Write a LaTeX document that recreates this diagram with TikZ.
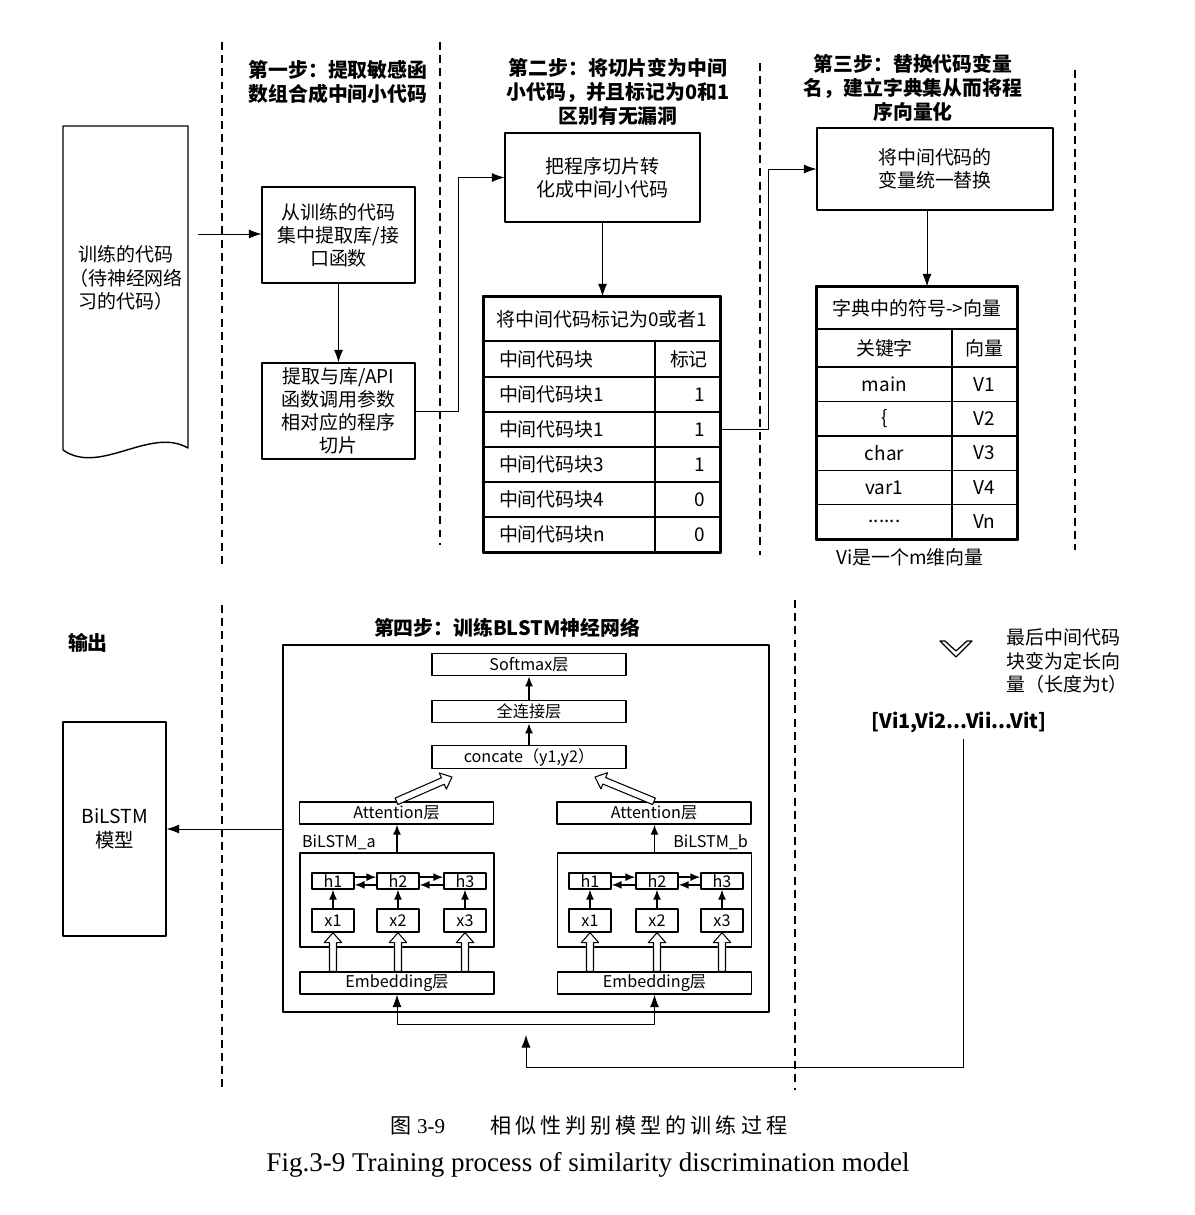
\documentclass[tikz,border=0pt]{standalone}
\usepackage{fontspec}
\setmainfont{Liberation Serif}
\newfontfamily\cjk{Noto Sans CJK SC}
\newfontfamily\cjkcap[LetterSpace=19]{Noto Sans CJK SC}
\usetikzlibrary{arrows.meta,calc}
\newcommand\elide{......}

\tikzset{
  box/.style={draw, line width=0.8pt, align=center, inner sep=1pt},
  head/.style={font=\cjk\bfseries\fontsize{11.3}{13.6}\selectfont, align=center},
  sep/.style={dash pattern=on 4.5pt off 3pt, line width=0.7pt},
  cellL/.style={draw, line width=0.8pt, minimum width=3.42cm, minimum height=0.7cm, text width=2.82cm, inner xsep=0.3cm, inner ysep=0pt, align=left},
  cellR/.style={cellL, minimum width=1.3cm, text width=0.7cm, align=right},
  dcell/.style={draw, line width=0.8pt, minimum width=2.7cm, minimum height=0.688cm, inner sep=0pt},
  layer/.style={draw, line width=0.8pt, minimum width=3.88cm, minimum height=0.45cm, inner sep=0pt, font=\cjk\fontsize{9.2}{10}\selectfont},
  unit/.style={layer, minimum width=0.84cm, minimum height=0.32cm},
  sarr/.style={-{Latex[length=2mm,width=1.6mm]}, line width=0.8pt},
  hollow/.style={line width=0.6pt, fill=white, to path={
    ($(\tikztostart)!2pt!90:(\tikztotarget)$) --
    ($($(\tikztotarget)!2mm!(\tikztostart)$)!2pt!90:(\tikztotarget)$) --
    ($($(\tikztotarget)!2mm!(\tikztostart)$)!5pt!90:(\tikztotarget)$) --
    (\tikztotarget) --
    ($($(\tikztotarget)!2mm!(\tikztostart)$)!5pt!-90:(\tikztotarget)$) --
    ($($(\tikztotarget)!2mm!(\tikztostart)$)!2pt!-90:(\tikztotarget)$) --
    ($(\tikztostart)!2pt!-90:(\tikztotarget)$) -- cycle}},
}

\begin{document}
\begin{tikzpicture}[x=0.02cm, y=-0.02cm, font=\cjk\fontsize{10.8}{13.2}\selectfont, line join=round, >={Latex[length=2.5mm,width=1.8mm]}]
\useasboundingbox (0,0) rectangle (1195,1215);
% separators
\foreach \x/\a/\b in {222/42/565, 440/42/545, 760/63/555, 1075/70/550, 222/605/1090, 795/600/1090}
  \draw[sep] (\x,\a) -- (\x,\b);
% step headers
\node[head] (s1) at (338,82) {第一步：提取敏感函\\数组合成中间小代码};
\node[head] (s2) at (618,92) {第二步：将切片变为中间\\小代码，并且标记为0和1\\区别有无漏洞};
\node[head] (s3) at (913,88) {第三步：替换代码变量\\名，建立字典集从而将程\\序向量化};
% input code
\draw[line width=0.8pt] (63,450) -- (63,126) -- (188,126) -- (188,448) .. controls (150,426) and (100,476) .. (63,450);
\node[align=center] (doc) at (126,278) {训练的代码\\（待神经网络\\习的代码）};
\coordinate (docout) at (198,234);
% step 1
\node[box, minimum width=3.06cm, minimum height=1.92cm] (a1) at (338.5,235) {从训练的代码\\集中提取库/接\\口函数};
\node[box, minimum width=3.06cm, minimum height=1.92cm] (a2) at (338.5,411) {提取与库/API\\函数调用参数\\相对应的程序\\切片};
\draw[->] (docout) -- (docout -| a1.west);
\draw[->] (a1) -- (a2);
% step 2
\node[box, minimum width=3.9cm, minimum height=1.78cm] (b1) at (602.5,177.5) {把程序切片转\\化成中间小代码};
\draw[->] (a2.east) -- ++(43,0) |- (b1.west);
\node[draw, line width=0.8pt, minimum width=4.72cm, minimum height=0.88cm] (t0) at (602,319) {将中间代码标记为0或者1};
\node[cellL, minimum height=0.72cm] (tk0) at (569.5,359) {中间代码块};
\node[cellR, minimum height=0.72cm] (tm0) at (687.5,359) {标记};
\foreach \k/\m [count=\i] in {中间代码块1/1, 中间代码块1/1, 中间代码块3/1, 中间代码块4/0, 中间代码块n/0} {
  \node[cellL] (tk\i) at (569.5,359.5+35*\i) {\k};
  \node[cellR] (tm\i) at (687.5,359.5+35*\i) {\m};
}
\draw[line width=1.3pt] (t0.north west) rectangle (tm5.south east);
\draw[->] (b1.south) -- (b1.south |- t0.north);
% step 3
\node[box, minimum width=4.72cm, minimum height=1.64cm] (c1) at (935,169) {将中间代码的\\变量统一替换};
\draw[->] (tm2.east) -- ++(48,0) |- (c1.west);
\node[draw, line width=0.8pt, minimum width=4cm, minimum height=0.84cm] (d0) at (917,308) {字典中的符号->向量};
\node[dcell, minimum height=0.76cm] (dk0) at (884.5,348) {关键字};
\node[dcell, minimum width=1.3cm, minimum height=0.76cm] (dv0) at (984.5,348) {向量};
\foreach \k/\v [count=\i] in {main/V1, \{/V2, char/V3, var1/V4, \elide/Vn} {
  \node[dcell] (dk\i) at (884.5,349.8+34.4*\i) {\k};
  \node[dcell, minimum width=1.3cm] (dv\i) at (984.5,349.8+34.4*\i) {\v};
}
\draw[line width=1.3pt] (d0.north west) rectangle (dv5.south east);
\draw[->] (c1.south) ++(-8,0) coordinate (c1s) -- (c1s |- d0.north);
\node (vdim) at (910,557) {Vi是一个m维向量};
% step 4
\node[head] (s4) at (507,628) {第四步：训练BLSTM神经网络};
\node[head] (outlbl) at (88,643) {输出};
\node[box, minimum width=2.06cm, minimum height=4.28cm, font=\cjk\fontsize{11}{13.5}\selectfont] (model) at (114.5,829) {BiLSTM\\模型};
\node[draw, line width=0.8pt, minimum width=9.72cm, minimum height=7.34cm] (net) at (526,828.5) {};
\draw[->] (net.west |- model.east) -- (model.east);
\node[layer] (soft) at (529,664.5) {Softmax层};
\node[layer] (fc) at (529,711.5) {全连接层};
\node[layer] (cat) at (529,757) {concate（y1,y2）};
\draw[sarr] (cat) -- (fc);
\draw[sarr] (fc) -- (soft);
\foreach \s/\c/\lx/\an/\t in {A/397/300/west/a, B/654.5/750/east/b} {
  \node[layer, minimum height=0.44cm] (att\s) at (\c-0.5,813) {Attention层};
  \node[draw, line width=0.8pt, minimum width=3.88cm, minimum height=1.88cm] (lstm\s) at (\c,900) {};
  \node[layer, minimum height=0.44cm] (emb\s) at (\c,983) {Embedding层};
  \node[anchor=\an, inner sep=1pt, font=\cjk\fontsize{9.2}{10}\selectfont] (lab\s) at (\lx,842) {BiLSTM\_\t};
  \draw[sarr] (lstm\s.north) -- (lstm\s.north |- att\s.south);
}
\foreach \n/\xa/\xb in {1/333/590, 2/398/657, 3/465/722} {
  \node[unit] (hA\n) at (\xa,881) {h\n};
  \node[unit, minimum height=0.46cm] (xA\n) at (\xa,920.5) {x\n};
  \node[unit] (hB\n) at (\xb,881) {h\n};
  \node[unit, minimum height=0.46cm] (xB\n) at (\xb,920.5) {x\n};
  \draw[sarr] (xA\n) -- (hA\n);
  \draw[sarr] (xB\n) -- (hB\n);
  \path (embA.north -| xA\n) coordinate (eA\n) (embB.north -| xB\n) coordinate (eB\n);
  \draw[hollow] (eA\n) to (xA\n.south);
  \draw[hollow] (eB\n) to (xB\n.south);
}
\foreach \s in {A,B}
  \foreach \a/\b in {1/2, 2/3} {
    \draw[sarr] ([yshift=2.2pt]h\s\a.east) -- ([yshift=2.2pt]h\s\b.west);
    \draw[sarr] ([yshift=-2.2pt]h\s\b.west) -- ([yshift=-2.2pt]h\s\a.east);
  }
\coordinate (catA) at (452,777);
\coordinate (catB) at (595,777);
\draw[hollow] (attA.north) to (catA);
\draw[hollow] (attB.north) to (catB);
% final vector and feedback
\draw[line width=0.7pt] (940,641) -- (956,657) -- (972,641) -- (967,641) -- (956,651) -- (945,641) -- cycle;
\node[align=left] (note) at (1067,661) {最后中间代码\\块变为定长向\\量（长度为t）};
\node[font=\cjk\bfseries\fontsize{11.3}{13}\selectfont] (vec) at (959,722) {[Vi1,Vi2...Vii...Vit]};
\coordinate (fbturn) at (963,1067);
\coordinate (fbin) at (526,1035);
\coordinate (fbmid) at (526,1024);
\draw[->] (vec.south) ++(4,0) coordinate (vs) -- (vs |- fbturn) -| (fbin);
\draw[->] (fbmid) -| (embA.south);
\draw[->] (fbmid) -| (embB.south);
% captions
\node[font=\fontsize{12}{14}\selectfont] (capzh) at (589,1125) {{\cjk 图}\ 3-9\hspace{0.9cm}{\cjkcap 相似性判别模型的训练过程}};
\node[font=\rmfamily\fontsize{15.4}{18}\selectfont] (capen) at (588,1165) {Fig.3-9 Training process of similarity discrimination model};
\end{tikzpicture}
\end{document}
